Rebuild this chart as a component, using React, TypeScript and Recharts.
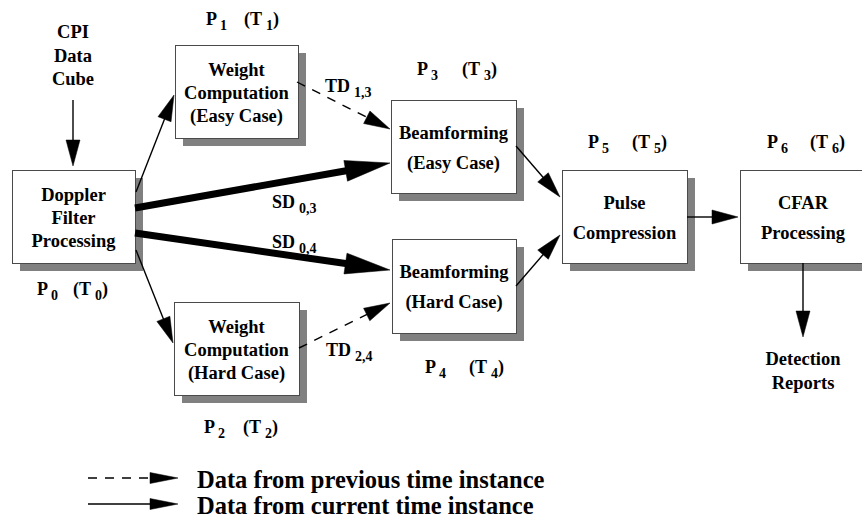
import React from 'react';
import { ComposedChart, XAxis, YAxis, Scatter, ReferenceArea, ReferenceLine } from 'recharts';

const W = 862;
const H = 527;
const FONT = "'Liberation Serif', 'Times New Roman', Times, 'DejaVu Serif', serif";

// Processing stages (boxes) in diagram coordinates
const boxes = [
  { name: 'P0', lines: ['Doppler', 'Filter', 'Processing'], x1: 12, y1: 170, x2: 135, y2: 263 },
  { name: 'P1', lines: ['Weight', 'Computation', '(Easy Case)'], x1: 175, y1: 45, x2: 298, y2: 138 },
  { name: 'P2', lines: ['Weight', 'Computation', '(Hard Case)'], x1: 174, y1: 302, x2: 299, y2: 395 },
  { name: 'P3', lines: ['Beamforming', '(Easy Case)'], x1: 391, y1: 100, x2: 516, y2: 193 },
  { name: 'P4', lines: ['Beamforming', '(Hard Case)'], x1: 392, y1: 239, x2: 516, y2: 333 },
  { name: 'P5', lines: ['Pulse', 'Compression'], x1: 562, y1: 170, x2: 687, y2: 263 },
  { name: 'P6', lines: ['CFAR', 'Processing'], x1: 740, y1: 170, x2: 866, y2: 263 },
];

// Data flows between stages
const edges = [
  { from: [73, 100], to: [73, 166], kind: 'current', weight: 'thin' },
  { from: [136, 192], to: [174, 95], kind: 'current', weight: 'thin' },
  { from: [136, 250], to: [173, 343], kind: 'current', weight: 'thin' },
  { from: [135, 208], to: [390, 163], kind: 'current', weight: 'thick' },
  { from: [135, 233], to: [390, 270], kind: 'current', weight: 'thick' },
  { from: [297, 82], to: [390, 129], kind: 'previous', weight: 'thin' },
  { from: [299, 348], to: [390, 303], kind: 'previous', weight: 'thin' },
  { from: [516, 146], to: [560, 197], kind: 'current', weight: 'thin' },
  { from: [516, 286], to: [560, 235], kind: 'current', weight: 'thin' },
  { from: [687, 217], to: [738, 217], kind: 'current', weight: 'thin' },
  { from: [803, 263], to: [803, 337], kind: 'current', weight: 'thin' },
];

// Processor labels "P_i" and task labels "(T_i)"
const procLabels = [
  { i: '0', x: 37, y: 295 },
  { i: '1', x: 206, y: 25 },
  { i: '2', x: 204, y: 433 },
  { i: '3', x: 417, y: 75 },
  { i: '4', x: 425, y: 373 },
  { i: '5', x: 588, y: 148 },
  { i: '6', x: 767, y: 148 },
];
const taskLabels = [
  { i: '0', x: 73, y: 295 },
  { i: '1', x: 244, y: 25 },
  { i: '2', x: 243, y: 433 },
  { i: '3', x: 462, y: 75 },
  { i: '4', x: 469, y: 373 },
  { i: '5', x: 632, y: 148 },
  { i: '6', x: 810, y: 148 },
];

// Edge labels
const edgeLabels = [
  { name: 'TD', sub: '1,3', x: 325, y: 92 },
  { name: 'SD', sub: '0,3', x: 272, y: 208 },
  { name: 'SD', sub: '0,4', x: 272, y: 248 },
  { name: 'TD', sub: '2,4', x: 326, y: 356 },
];

// Free text notes (input / output)
const notes = [
  { lines: ['CPI', 'Data', 'Cube'], x: 73, y: 38 },
  { lines: ['Detection', 'Reports'], x: 803, y: 365 },
];

// Legend
const legendItems = [
  { label: 'Data from previous time instance', kind: 'previous', x0: 88, x1: 178, y: 478, tx: 197, ty: 488 },
  { label: 'Data from current time instance', kind: 'current', x0: 88, x1: 178, y: 504, tx: 197, ty: 514 },
];

const styleFor = (weight: string) => {
  if (weight === 'thick') return { sw: 7, len: 45, half: 10.5 };
  if (weight === 'legend') return { sw: 1.4, len: 28, half: 5.5 };
  return { sw: 1.4, len: 26, half: 7 };
};

const textStyle = (size: number): React.CSSProperties => ({
  fontFamily: FONT,
  fontWeight: 700,
  fontSize: size,
});

const ArrowShape = (props: any) => {
  const { x1, y1, x2, y2, kind, weight } = props;
  const { sw, len, half } = styleFor(weight);
  const dx = x2 - x1;
  const dy = y2 - y1;
  const d = Math.sqrt(dx * dx + dy * dy) || 1;
  const ux = dx / d;
  const uy = dy / d;
  const bx = x2 - ux * len;
  const by = y2 - uy * len;
  const nx = -uy;
  const ny = ux;
  const lx = x2 - ux * (len - 2);
  const ly = y2 - uy * (len - 2);
  const pts = `${x2},${y2} ${bx + nx * half},${by + ny * half} ${bx - nx * half},${by - ny * half}`;
  return (
    <g>
      <line
        x1={x1}
        y1={y1}
        x2={lx}
        y2={ly}
        stroke="#000"
        strokeWidth={sw}
        strokeDasharray={kind === 'previous' ? '9 8' : undefined}
      />
      <polygon points={pts} fill="#000" stroke="#000" strokeWidth={0.5} />
    </g>
  );
};

const BoxShape = (props: any) => {
  const { x, y, width, height, box } = props;
  const cx = x + width / 2;
  const cy = y + height / 2;
  const n = box.lines.length;
  const gap = n === 3 ? 23 : 30;
  const first = cy + 7 - (gap * (n - 1)) / 2;
  return (
    <g>
      <rect x={x + 8} y={y + 8} width={width} height={height} fill="#808080" />
      <rect x={x + 0.5} y={y + 0.5} width={width} height={height} fill="#fff" stroke="#4a4a4a" strokeWidth={1} />
      <text style={textStyle(18.5)} textAnchor="middle" fill="#000">
        {box.lines.map((l: string, k: number) => (
          <tspan key={k} x={cx} y={first + k * gap}>
            {l}
          </tspan>
        ))}
      </text>
    </g>
  );
};

const ProcShape = (props: any) => {
  const { cx, cy, payload } = props;
  return (
    <text x={cx} y={cy} style={textStyle(18)} fill="#000">
      <tspan>P</tspan>
      <tspan dx={3} dy={5} style={{ fontSize: 14 }}>
        {payload.i}
      </tspan>
    </text>
  );
};

const TaskShape = (props: any) => {
  const { cx, cy, payload } = props;
  return (
    <text x={cx} y={cy} style={textStyle(18)} fill="#000">
      <tspan>(T</tspan>
      <tspan dx={4} dy={5} style={{ fontSize: 14 }}>
        {payload.i}
      </tspan>
      <tspan dy={-5}>)</tspan>
    </text>
  );
};

const EdgeLabelShape = (props: any) => {
  const { cx, cy, payload } = props;
  return (
    <text x={cx} y={cy} style={textStyle(18)} fill="#000">
      <tspan>{payload.name}</tspan>
      <tspan dx={4} dy={5} style={{ fontSize: 14 }}>
        {payload.sub}
      </tspan>
    </text>
  );
};

const NoteShape = (props: any) => {
  const { cx, cy, payload } = props;
  return (
    <text style={textStyle(18.5)} textAnchor="middle" fill="#000">
      {payload.lines.map((l: string, k: number) => (
        <tspan key={k} x={cx} y={cy + k * 23.5}>
          {l}
        </tspan>
      ))}
    </text>
  );
};

const LegendTextShape = (props: any) => {
  const { cx, cy, payload } = props;
  return (
    <text x={cx} y={cy} style={textStyle(24.5)} fill="#000">
      {payload.label}
    </text>
  );
};

const legendText = legendItems.map((l) => ({ x: l.tx, y: l.ty, label: l.label }));

export default function App() {
  return (
    <div style={{ position: 'absolute', left: 0, top: 0, width: W, height: H, background: '#fff', fontFamily: FONT }}>
      <ComposedChart width={W} height={H} margin={{ top: 0, right: 0, bottom: 0, left: 0 }}>
        <XAxis type="number" dataKey="x" domain={[0, W]} allowDataOverflow hide />
        <YAxis type="number" dataKey="y" domain={[0, H]} allowDataOverflow reversed hide />
        {boxes.map((b) => (
          <ReferenceArea
            key={b.name}
            x1={b.x1}
            x2={b.x2}
            y1={b.y1}
            y2={b.y2}
            ifOverflow="visible"
            shape={(p: any) => <BoxShape {...p} box={b} />}
          />
        ))}
        {edges.map((e, k) => (
          <ReferenceLine
            key={`e${k}`}
            segment={[
              { x: e.from[0], y: e.from[1] },
              { x: e.to[0], y: e.to[1] },
            ]}
            ifOverflow="visible"
            shape={(p: any) => <ArrowShape {...p} kind={e.kind} weight={e.weight} />}
          />
        ))}
        {legendItems.map((l, k) => (
          <ReferenceLine
            key={`l${k}`}
            segment={[
              { x: l.x0, y: l.y },
              { x: l.x1, y: l.y },
            ]}
            ifOverflow="visible"
            shape={(p: any) => <ArrowShape {...p} kind={l.kind} weight="legend" />}
          />
        ))}
        <Scatter data={procLabels} shape={ProcShape} isAnimationActive={false} />
        <Scatter data={taskLabels} shape={TaskShape} isAnimationActive={false} />
        <Scatter data={edgeLabels} shape={EdgeLabelShape} isAnimationActive={false} />
        <Scatter data={notes} shape={NoteShape} isAnimationActive={false} />
        <Scatter data={legendText} shape={LegendTextShape} isAnimationActive={false} />
      </ComposedChart>
    </div>
  );
}
